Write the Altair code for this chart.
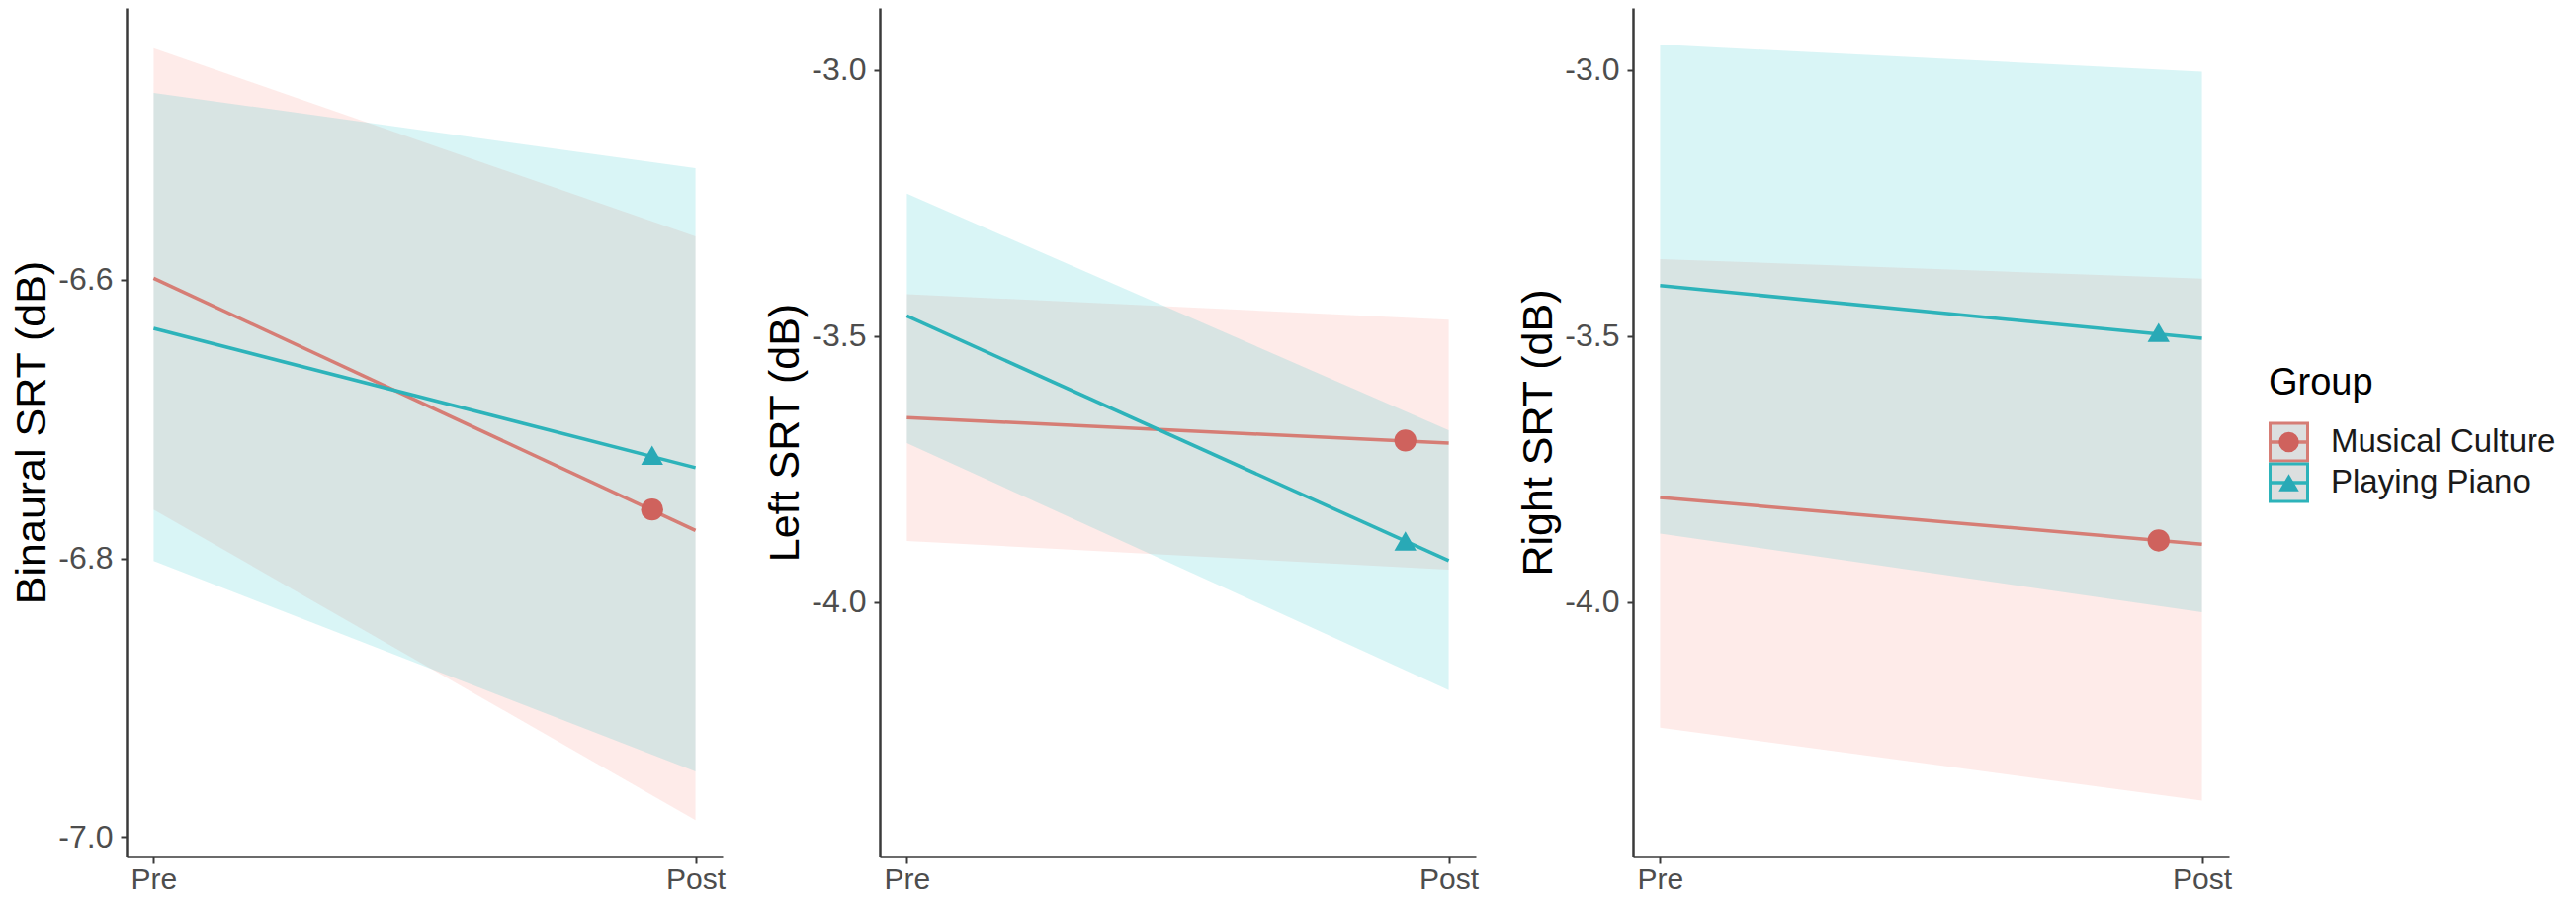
import altair as alt
import pandas as pd

# ---------------- data ----------------
x_labels = ["Pre", "Post"]
x_pos = [0, 1]
groups = ["Musical Culture", "Playing Piano"]
point_x = 0.92
legend_title = "Group"

binaural_title = "Binaural SRT (dB)"
binaural_ticks = [-7.0, -6.8, -6.6]
binaural_domain = [-7.014, -6.405]
binaural_mc_fit = [-6.599, -6.780]
binaural_mc_lo = [-6.765, -6.988]
binaural_mc_hi = [-6.434, -6.569]
binaural_pp_fit = [-6.635, -6.735]
binaural_pp_lo = [-6.802, -6.953]
binaural_pp_hi = [-6.466, -6.520]
binaural_pts = [-6.765, -6.726]

left_title = "Left SRT (dB)"
left_ticks = [-4.0, -3.5, -3.0]
left_domain = [-4.478, -2.883]
left_mc_fit = [-3.653, -3.701]
left_mc_lo = [-3.885, -3.939]
left_mc_hi = [-3.421, -3.469]
left_pp_fit = [-3.462, -3.922]
left_pp_lo = [-3.701, -4.165]
left_pp_hi = [-3.232, -3.677]
left_pts = [-3.696, -3.885]

right_title = "Right SRT (dB)"
right_ticks = [-4.0, -3.5, -3.0]
right_domain = [-4.478, -2.883]
right_mc_fit = [-3.803, -3.891]
right_mc_lo = [-4.236, -4.373]
right_mc_hi = [-3.355, -3.392]
right_pp_fit = [-3.405, -3.504]
right_pp_lo = [-3.871, -4.019]
right_pp_hi = [-2.952, -3.003]
right_pts = [-3.884, -3.493]

# ---------------- styles ----------------
ribbon_colors = ["#F8766D", "#00BFC4"]
line_colors = ["#d67d75", "#2db3ba"]
point_colors = ["#cf625d", "#29a9b6"]
key_borders = ["#f3978f", "#38c3c8"]
shapes = ["circle", "triangle-up"]
FONT = "Liberation Sans"


def frames(mc_fit, mc_lo, mc_hi, pp_fit, pp_lo, pp_hi, pts):
    rows = []
    for g, fit, lo, hi in [(groups[0], mc_fit, mc_lo, mc_hi),
                           (groups[1], pp_fit, pp_lo, pp_hi)]:
        for xi, f, l, h in zip(x_pos, fit, lo, hi):
            rows.append({"Group": g, "x": xi, "fit": f, "lo": l, "hi": h})
    band = pd.DataFrame(rows)
    points = pd.DataFrame({"Group": groups, "x": [point_x] * len(groups), "y": pts})
    return band, points


def panel(band, points, title, domain, ticks):
    xs = alt.Scale(domain=[-0.05, 1.05], nice=False, zero=False)
    ys = alt.Scale(domain=domain, nice=False, zero=False)
    label_expr = f"datum.value == {x_pos[0]} ? '{x_labels[0]}' : '{x_labels[1]}'"
    xaxis = alt.Axis(values=x_pos, labelExpr=label_expr, title=None, grid=False)
    yaxis = alt.Axis(values=ticks, format=".1f",
                     labelExpr="replace(datum.label, '\u2212', '-')",
                     title=title, grid=False)
    base = alt.Chart(band)
    area = base.mark_area(opacity=0.15).encode(
        x=alt.X("x:Q", scale=xs, axis=xaxis),
        y=alt.Y("lo:Q", scale=ys, axis=yaxis),
        y2="hi:Q",
        fill=alt.Fill("Group:N", scale=alt.Scale(domain=groups, range=ribbon_colors), legend=None),
    )
    line = base.mark_line(strokeWidth=3.5).encode(
        x=alt.X("x:Q", scale=xs, axis=xaxis),
        y=alt.Y("fit:Q", scale=ys, axis=yaxis),
        stroke=alt.Stroke("Group:N", scale=alt.Scale(domain=groups, range=line_colors), legend=None),
    )
    pts = alt.Chart(points).mark_point(filled=True, size=500, opacity=1).encode(
        x=alt.X("x:Q", scale=xs, axis=xaxis),
        y=alt.Y("y:Q", scale=ys, axis=yaxis),
        color=alt.Color("Group:N", scale=alt.Scale(domain=groups, range=point_colors), legend=None),
        shape=alt.Shape("Group:N", scale=alt.Scale(domain=groups, range=shapes), legend=None),
    )
    return alt.layer(area, line, pts).properties(width=603, height=858)


p1 = panel(*frames(binaural_mc_fit, binaural_mc_lo, binaural_mc_hi,
                   binaural_pp_fit, binaural_pp_lo, binaural_pp_hi, binaural_pts),
           binaural_title, binaural_domain, binaural_ticks)
p2 = panel(*frames(left_mc_fit, left_mc_lo, left_mc_hi,
                   left_pp_fit, left_pp_lo, left_pp_hi, left_pts),
           left_title, left_domain, left_ticks)
p3 = panel(*frames(right_mc_fit, right_mc_lo, right_mc_hi,
                   right_pp_fit, right_pp_lo, right_pp_hi, right_pts),
           right_title, right_domain, right_ticks)

# ---------------- legend drawn as its own small view ----------------
leg_df = pd.DataFrame({"Group": groups})
ys_leg = alt.Scale(type="point", domain=groups, range=[439, 480], padding=0)
leg_y = alt.Y("Group:N", scale=ys_leg, axis=None)

keys = alt.Chart(leg_df).mark_square(size=1444, fill="#dcdfdf", strokeWidth=3, opacity=1).encode(
    x=alt.value(26.5), y=leg_y,
    stroke=alt.Stroke("Group:N", scale=alt.Scale(domain=groups, range=key_borders), legend=None),
)
key_lines = alt.Chart(leg_df).mark_rule(strokeWidth=3.5).encode(
    x=alt.value(8), x2=alt.value(45), y=leg_y,
    color=alt.Color("Group:N", scale=alt.Scale(domain=groups, range=line_colors), legend=None),
)
key_pts = alt.Chart(leg_df).mark_point(filled=True, size=420, opacity=1).encode(
    x=alt.value(26.5), y=leg_y,
    color=alt.Color("Group:N", scale=alt.Scale(domain=groups, range=point_colors), legend=None),
    shape=alt.Shape("Group:N", scale=alt.Scale(domain=groups, range=shapes), legend=None),
)
key_text = alt.Chart(leg_df).mark_text(align="left", baseline="middle", fontSize=33,
                                       color="#1a1a1a", font=FONT).encode(
    x=alt.value(69), y=leg_y, text="Group:N",
)
key_title = alt.Chart(pd.DataFrame({"t": [legend_title]})).mark_text(
    align="left", baseline="alphabetic", fontSize=38, color="#000000", font=FONT).encode(
    x=alt.value(6), y=alt.value(391), text="t:N",
)
legend = alt.layer(keys, key_lines, key_pts, key_text, key_title).resolve_scale(
    color="independent").properties(width=293, height=858)

chart = alt.hconcat(
    alt.hconcat(p1, p2, p3, spacing=39),
    legend,
    spacing=31,
).properties(
    padding={"left": 3, "top": 0, "right": 0, "bottom": 0}
).configure(
    font=FONT
).configure_view(
    stroke=None
).configure_axis(
    domainColor="#3a3a3a", domainWidth=2.5,
    tickColor="#3a3a3a", tickWidth=2,
    labelColor="#4d4d4d", labelFont=FONT,
    titleColor="#000000", titleFont=FONT, titleFontWeight="normal",
).configure_axisX(
    tickSize=7, labelPadding=1, labelFontSize=30,
).configure_axisY(
    tickSize=6, labelPadding=8, labelFontSize=32,
    minExtent=69, maxExtent=69, titlePadding=5, titleFontSize=43,
)

chart.save("out.html", embed_options={"renderer": "svg", "actions": False})
